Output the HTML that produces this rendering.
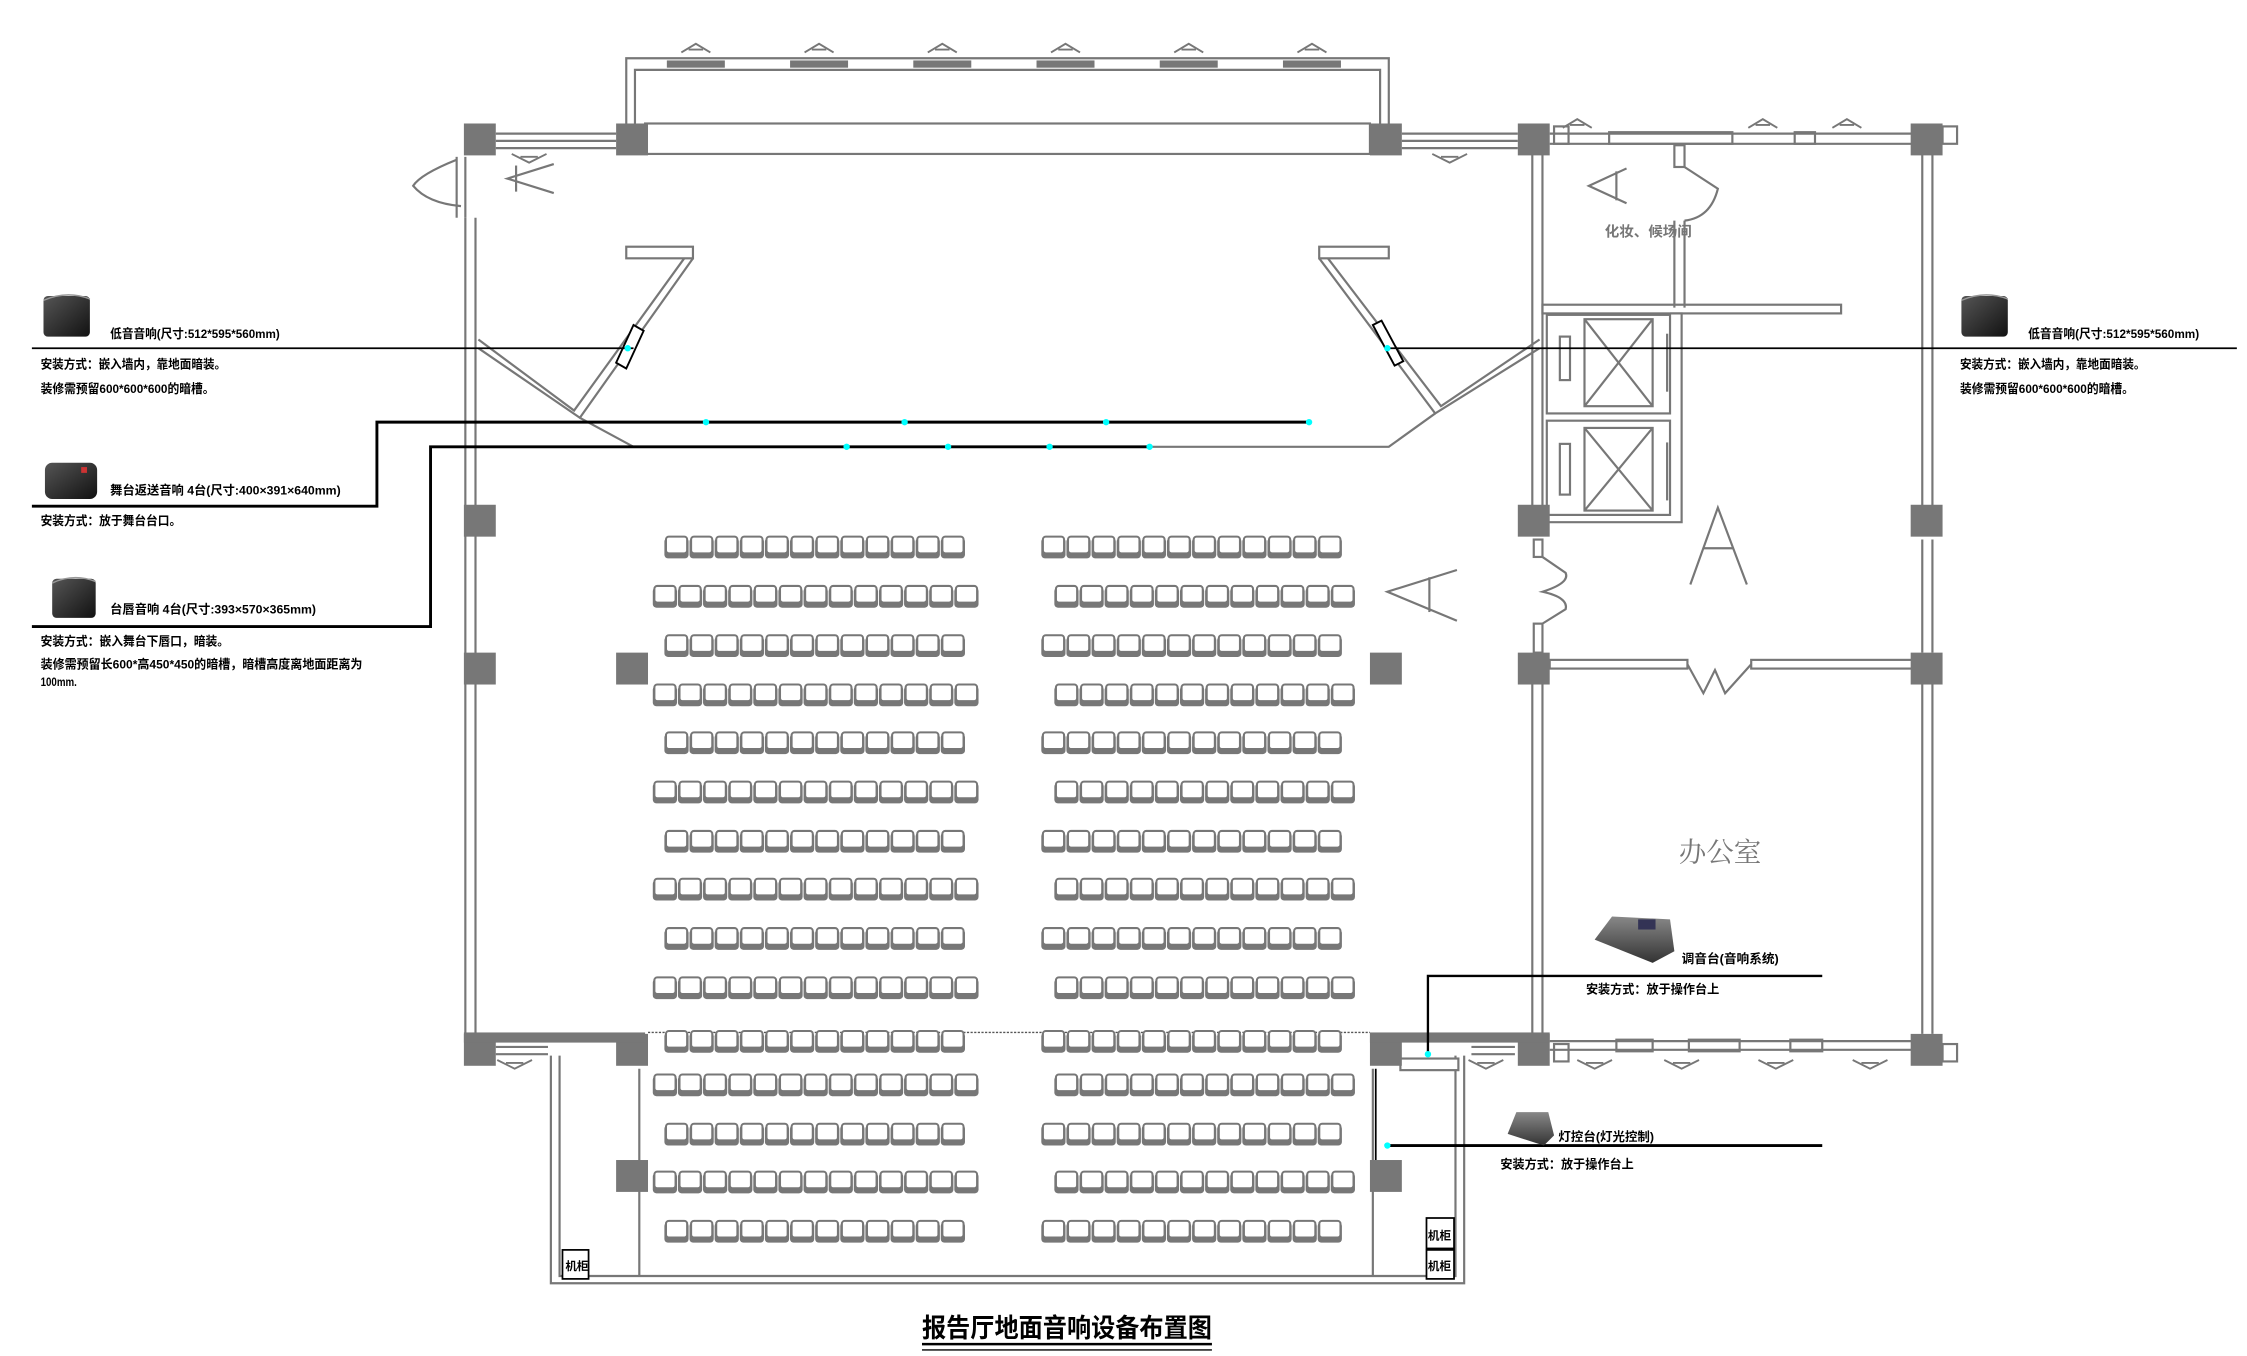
<!DOCTYPE html>
<html><head><meta charset="utf-8">
<style>
html,body{margin:0;padding:0;background:#fff;}
svg{display:block;}
.t{font-family:"Liberation Sans","Noto Sans CJK SC",sans-serif;font-weight:bold;fill:#000;}
</style></head>
<body>
<svg width="2247" height="1356" viewBox="0 0 1550 935" xmlns="http://www.w3.org/2000/svg">
<defs>
  <g id="seat">
    <rect x="0.3" y="-6" width="16.7" height="14" rx="2.5" fill="#777"/>
    <rect x="1.4" y="-7" width="14.6" height="11.5" rx="2" fill="#fff" stroke="#777" stroke-width="1.4"/>
  </g>
  <g id="r12">
    <use href="#seat" x="0"/><use href="#seat" x="17.33"/><use href="#seat" x="34.66"/><use href="#seat" x="52"/>
    <use href="#seat" x="69.33"/><use href="#seat" x="86.66"/><use href="#seat" x="104"/><use href="#seat" x="121.33"/>
    <use href="#seat" x="138.66"/><use href="#seat" x="156"/><use href="#seat" x="173.33"/><use href="#seat" x="190.66"/>
  </g>
  <g id="r13">
    <use href="#r12"/><use href="#seat" x="208"/>
  </g>
  <g id="tri">
    <polyline points="-10,6 0,0 10,6" fill="none" stroke="#777" stroke-width="1.3"/>
    <line x1="-5" y1="4" x2="5" y2="4" stroke="#777" stroke-width="1.3"/>
  </g>
  <g id="trid">
    <polyline points="-12,0 0,6 12,0" fill="none" stroke="#777" stroke-width="1.3"/>
    <line x1="-6" y1="2" x2="6" y2="2" stroke="#777" stroke-width="1.3"/>
  </g>
  <linearGradient id="spk" x1="0" y1="0" x2="1" y2="1">
    <stop offset="0" stop-color="#555"/><stop offset="1" stop-color="#111"/>
  </linearGradient>
  <linearGradient id="mix" x1="0" y1="0" x2="0" y2="1">
    <stop offset="0" stop-color="#888"/><stop offset="1" stop-color="#333"/>
  </linearGradient>
</defs>

<g fill="none" stroke="#777" stroke-width="1.5">
  <polyline points="432,85 432,40 958,40 958,85"/>
  <polyline points="438,85 438,48 952,48 952,85"/>
  <rect x="445" y="85" width="500" height="21"/>
  <line x1="342" y1="92" x2="425" y2="92"/><line x1="342" y1="97" x2="425" y2="97"/><line x1="342" y1="102" x2="425" y2="102"/>
  <line x1="967" y1="92" x2="1047" y2="92"/><line x1="967" y1="97" x2="1047" y2="97"/><line x1="967" y1="102" x2="1047" y2="102"/>
  <line x1="321" y1="150" x2="321" y2="715"/><line x1="328" y1="150" x2="328" y2="715"/>
  <line x1="315" y1="108" x2="315" y2="150"/><line x1="321" y1="108" x2="321" y2="150"/>
  <path d="M315,110 Q290,120 285,128 Q295,140 318,142"/>
  <polyline points="382,113 350,123 382,133"/><line x1="356" y1="114" x2="356" y2="132"/>
  <rect x="432" y="170" width="46" height="8"/>
  <rect x="910" y="170" width="48" height="8"/>
  <polyline points="478,178 400,288 330,240"/>
  <polyline points="472,178 396,283 330,234"/>
  <polyline points="910,178 990,285 1062,240"/>
  <polyline points="916,178 994,280 1062,234"/>
  <polyline points="400,288 437,308 958,308 990,285"/>
  <line x1="1057" y1="100" x2="1057" y2="360"/><line x1="1064" y1="100" x2="1064" y2="360"/>
  <line x1="1326" y1="100" x2="1326" y2="350"/><line x1="1333" y1="100" x2="1333" y2="350"/>
  <line x1="1326" y1="372" x2="1326" y2="450"/><line x1="1333" y1="372" x2="1333" y2="450"/>
  <line x1="1326" y1="472" x2="1326" y2="713"/><line x1="1333" y1="472" x2="1333" y2="713"/>
  <line x1="1057" y1="472" x2="1057" y2="713"/><line x1="1064" y1="472" x2="1064" y2="713"/>
  <line x1="1069" y1="92" x2="1320" y2="92"/><line x1="1069" y1="99" x2="1320" y2="99"/>
  <rect x="1110" y="91" width="85" height="8"/><rect x="1238" y="91" width="14" height="8"/>
  <rect x="1072" y="87" width="10" height="12"/><rect x="1340" y="87" width="10" height="12"/>
  <rect x="1155" y="100" width="7" height="15"/>
  <path d="M1162,115 L1185,130 Q1180,150 1162,152"/>
  <line x1="1155" y1="152" x2="1155" y2="212"/><line x1="1162" y1="152" x2="1162" y2="212"/>
  <polyline points="1122,116 1096,128 1122,140"/><line x1="1115" y1="118" x2="1115" y2="138"/>
  <rect x="1064" y="210" width="206" height="6"/>
  <rect x="1067" y="217" width="85" height="68"/>
  <rect x="1093" y="220" width="47" height="60"/><line x1="1093" y1="220" x2="1140" y2="280"/><line x1="1140" y1="220" x2="1093" y2="280"/>
  <rect x="1076" y="232" width="7" height="30"/>
  <rect x="1067" y="290" width="85" height="65"/>
  <rect x="1093" y="295" width="47" height="57"/><line x1="1093" y1="295" x2="1140" y2="352"/><line x1="1140" y1="295" x2="1093" y2="352"/>
  <rect x="1076" y="306" width="7" height="35"/>
  <polyline points="1152,216 1160,216 1160,360 1064,360"/>
  <line x1="1150" y1="230" x2="1150" y2="270"/><line x1="1150" y1="305" x2="1150" y2="345"/>
  <polyline points="1166,403 1185,350 1205,403"/><line x1="1175" y1="378" x2="1196" y2="378"/>
  <polyline points="1005,393 957,408 1005,428"/><line x1="986" y1="398" x2="986" y2="422"/>
  <rect x="1058" y="372" width="6" height="12"/><rect x="1058" y="430" width="6" height="20"/>
  <path d="M1064,384 L1080,395 Q1083,402 1064,408 Q1082,412 1080,420 L1064,430"/>
  <rect x="1069" y="455" width="95" height="6"/><rect x="1208" y="455" width="115" height="6"/>
  <polyline points="1164,458 1175,478 1183,462 1190,478 1208,458"/>
  <line x1="1069" y1="718" x2="1320" y2="718"/><line x1="1069" y1="724" x2="1320" y2="724"/>
  <rect x="1115" y="717" width="25" height="8"/><rect x="1165" y="717" width="35" height="8"/><rect x="1235" y="717" width="22" height="8"/>
  <rect x="1072" y="720" width="10" height="12"/><rect x="1340" y="720" width="10" height="12"/>
  <polyline points="380,728 380,885 1010,885 1010,728"/>
  <polyline points="386,728 386,880 1004,880 1004,728"/>
  <line x1="441" y1="737" x2="441" y2="880"/><line x1="947" y1="737" x2="947" y2="880"/>
  <line x1="342" y1="722" x2="378" y2="722"/><line x1="342" y1="727" x2="378" y2="727"/>
  <line x1="1015" y1="722" x2="1045" y2="722"/><line x1="1015" y1="727" x2="1045" y2="727"/>
  <rect x="966" y="730" width="40" height="8" fill="#fff"/>
</g>
<use href="#tri" x="480" y="30"/><use href="#tri" x="565" y="30"/><use href="#tri" x="650" y="30"/>
<use href="#tri" x="735" y="30"/><use href="#tri" x="820" y="30"/><use href="#tri" x="905" y="30"/>
<use href="#tri" x="1088" y="82"/><use href="#tri" x="1216" y="82"/><use href="#tri" x="1274" y="82"/>
<use href="#trid" x="365" y="106"/><use href="#trid" x="1000" y="106"/>
<use href="#trid" x="355" y="731"/><use href="#trid" x="1025" y="731"/>
<use href="#trid" x="1100" y="731"/><use href="#trid" x="1160" y="731"/><use href="#trid" x="1225" y="731"/><use href="#trid" x="1290" y="731"/>
<g fill="#777">
  <rect x="460" y="41.5" width="40" height="5"/><rect x="545" y="41.5" width="40" height="5"/><rect x="630" y="41.5" width="40" height="5"/>
  <rect x="715" y="41.5" width="40" height="5"/><rect x="800" y="41.5" width="40" height="5"/><rect x="885" y="41.5" width="40" height="5"/>
</g>
<g fill="#777">
  <rect x="320" y="85" width="22" height="22"/><rect x="425" y="85" width="22" height="22"/>
  <rect x="945" y="85" width="22" height="22"/><rect x="1047" y="85" width="22" height="22"/><rect x="1318" y="85" width="22" height="22"/>
  <rect x="320" y="348" width="22" height="22"/><rect x="1047" y="348" width="22" height="22"/><rect x="1318" y="348" width="22" height="22"/>
  <rect x="320" y="450" width="22" height="22"/><rect x="425" y="450" width="22" height="22"/><rect x="945" y="450" width="22" height="22"/>
  <rect x="1047" y="450" width="22" height="22"/><rect x="1318" y="450" width="22" height="22"/>
  <rect x="320" y="713" width="22" height="22"/><rect x="425" y="713" width="22" height="22"/>
  <rect x="945" y="713" width="22" height="22"/><rect x="1047" y="713" width="22" height="22"/><rect x="1318" y="713" width="22" height="22"/>
  <rect x="320" y="712" width="125" height="7"/><rect x="945" y="712" width="124" height="7"/>
  <rect x="425" y="800" width="22" height="22"/><rect x="945" y="800" width="22" height="22"/>
</g>
<line x1="447" y1="712" x2="945" y2="712" stroke="#555" stroke-width="1" stroke-dasharray="1.5,1"/>

<g>
  <use href="#r12" x="458" y="377"/><use href="#r12" x="718" y="377"/>
  <use href="#r13" x="450" y="411"/><use href="#r12" x="727" y="411"/>
  <use href="#r12" x="458" y="445"/><use href="#r12" x="718" y="445"/>
  <use href="#r13" x="450" y="479"/><use href="#r12" x="727" y="479"/>
  <use href="#r12" x="458" y="512"/><use href="#r12" x="718" y="512"/>
  <use href="#r13" x="450" y="546"/><use href="#r12" x="727" y="546"/>
  <use href="#r12" x="458" y="580"/><use href="#r12" x="718" y="580"/>
  <use href="#r13" x="450" y="613"/><use href="#r12" x="727" y="613"/>
  <use href="#r12" x="458" y="647"/><use href="#r12" x="718" y="647"/>
  <use href="#r13" x="450" y="681"/><use href="#r12" x="727" y="681"/>
  <use href="#r12" x="458" y="718"/><use href="#r12" x="718" y="718"/>
  <use href="#r13" x="450" y="748"/><use href="#r12" x="727" y="748"/>
  <use href="#r12" x="458" y="782"/><use href="#r12" x="718" y="782"/>
  <use href="#r13" x="450" y="815"/><use href="#r12" x="727" y="815"/>
  <use href="#r12" x="458" y="849"/><use href="#r12" x="718" y="849"/>
</g>

<g fill="#fff" stroke="#000" stroke-width="1.2">
  <rect x="388" y="862" width="18" height="20"/><rect x="984" y="840" width="19" height="21"/><rect x="984" y="862" width="19" height="20"/>
</g>
<text class="t" x="390" y="876" font-size="8">机柜</text>
<text class="t" x="985" y="855" font-size="8">机柜</text>
<text class="t" x="985" y="876" font-size="8">机柜</text>

<g fill="#fff" stroke="#000" stroke-width="1.3">
  <polygon points="437,224 444,228 432,254 425,250"/>
  <polygon points="947,224 953,221 968,249 962,252"/>
</g>

<g stroke="#000" fill="none">
  <line x1="22" y1="240" x2="437" y2="240" stroke-width="1.2"/>
  <line x1="958" y1="240" x2="1543" y2="240" stroke-width="1.2"/>
  <polyline points="22,349 260,349 260,291 903,291" stroke-width="2"/>
  <polyline points="22,432 297,432 297,308 793,308" stroke-width="2"/>
  <polyline points="1257,673 985,673 985,727" stroke-width="1.6"/>
  <line x1="957" y1="790" x2="1257" y2="790" stroke-width="2"/>
  <line x1="949" y1="737" x2="949" y2="800" stroke-width="1.2"/>
</g>
<g fill="#0ff">
  <circle cx="433" cy="240" r="2.2"/><circle cx="957" cy="240" r="2.2"/>
  <circle cx="487" cy="291" r="2.2"/><circle cx="624" cy="291" r="2.2"/><circle cx="763" cy="291" r="2.2"/><circle cx="903" cy="291" r="2.2"/>
  <circle cx="584" cy="308" r="2.2"/><circle cx="654" cy="308" r="2.2"/><circle cx="724" cy="308" r="2.2"/><circle cx="793" cy="308" r="2.2"/>
  <circle cx="985" cy="727" r="2.2"/><circle cx="957" cy="790" r="2.2"/>
</g>

<text x="1107" y="163" font-size="10" fill="#777" font-family="'Liberation Sans','Noto Sans CJK SC',sans-serif" font-weight="bold">化妆、候场间</text>
<text x="1158" y="594" font-size="19" fill="#777" font-family="'Liberation Serif','Noto Serif CJK SC',serif">办公室</text>

<g>
  <rect x="30" y="204" width="32" height="28" rx="3" fill="url(#spk)"/><path d="M30,207 Q46,200 62,206" stroke="#999" fill="none"/>
  <rect x="31" y="319" width="36" height="25" rx="5" fill="url(#spk)"/><rect x="56" y="322" width="4" height="4" fill="#c33"/>
  <rect x="36" y="399" width="30" height="27" rx="3" fill="url(#spk)"/><path d="M36,402 Q51,395 66,401" stroke="#999" fill="none"/>
  <rect x="1353" y="204" width="32" height="28" rx="3" fill="url(#spk)"/><path d="M1353,207 Q1369,200 1385,206" stroke="#999" fill="none"/>
  <polygon points="1100,648 1112,632 1152,634 1155,656 1140,664" fill="url(#mix)"/>
  <rect x="1130" y="634" width="12" height="7" fill="#335"/>
  <polygon points="1040,782 1046,767 1068,767 1072,783 1065,790" fill="url(#mix)"/>
</g>

<g class="t" font-size="8.5">
  <text x="76" y="233" textLength="117" lengthAdjust="spacingAndGlyphs">低音音响(尺寸:512*595*560mm)</text>
  <text x="28" y="254" textLength="128" lengthAdjust="spacingAndGlyphs">安装方式：嵌入墙内，靠地面暗装。</text>
  <text x="28" y="271" textLength="120" lengthAdjust="spacingAndGlyphs">装修需预留600*600*600的暗槽。</text>
  <text x="76" y="341" textLength="159" lengthAdjust="spacingAndGlyphs">舞台返送音响 4台(尺寸:400×391×640mm)</text>
  <text x="28" y="362" textLength="97" lengthAdjust="spacingAndGlyphs">安装方式：放于舞台台口。</text>
  <text x="76" y="423" textLength="142" lengthAdjust="spacingAndGlyphs">台唇音响 4台(尺寸:393×570×365mm)</text>
  <text x="28" y="445" textLength="130" lengthAdjust="spacingAndGlyphs">安装方式：嵌入舞台下唇口，暗装。</text>
  <text x="28" y="461" textLength="222" lengthAdjust="spacingAndGlyphs">装修需预留长600*高450*450的暗槽，暗槽高度离地面距离为</text>
  <text x="28" y="473" textLength="25" lengthAdjust="spacingAndGlyphs">100mm.</text>
  <text x="1399" y="233" textLength="118" lengthAdjust="spacingAndGlyphs">低音音响(尺寸:512*595*560mm)</text>
  <text x="1352" y="254" textLength="128" lengthAdjust="spacingAndGlyphs">安装方式：嵌入墙内，靠地面暗装。</text>
  <text x="1352" y="271" textLength="120" lengthAdjust="spacingAndGlyphs">装修需预留600*600*600的暗槽。</text>
  <text x="1160" y="664" textLength="67" lengthAdjust="spacingAndGlyphs">调音台(音响系统)</text>
  <text x="1094" y="685" textLength="92" lengthAdjust="spacingAndGlyphs">安装方式：放于操作台上</text>
  <text x="1075" y="787" textLength="66" lengthAdjust="spacingAndGlyphs">灯控台(灯光控制)</text>
  <text x="1035" y="806" textLength="92" lengthAdjust="spacingAndGlyphs">安装方式：放于操作台上</text>
</g>

<text class="t" x="636" y="922" font-size="18" textLength="200" lengthAdjust="spacingAndGlyphs">报告厅地面音响设备布置图</text>
<line x1="636" y1="927" x2="836" y2="927" stroke="#000" stroke-width="1.8"/>
<line x1="636" y1="931" x2="836" y2="931" stroke="#000" stroke-width="1"/>
</svg>
</body></html>
